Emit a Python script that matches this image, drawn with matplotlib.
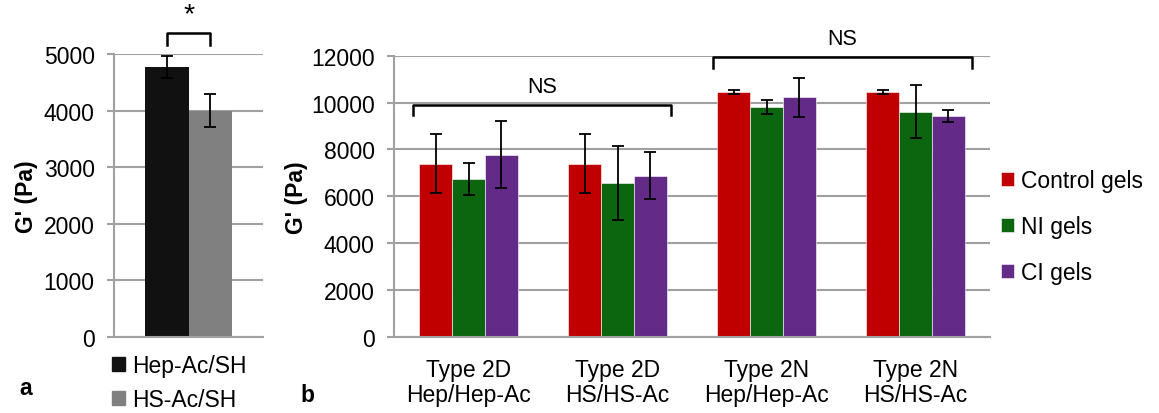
import numpy as np
import matplotlib
matplotlib.use('Agg')
from matplotlib import pyplot as plt
from matplotlib.patches import Patch

plt.rcParams['font.family'] = ['Liberation Sans', 'DejaVu Sans']
FS = 16.5

# panel a data
a_labels = ['Hep-Ac/SH', 'HS-Ac/SH']
a_values = [4770, 4000]
a_errors = [190, 290]
a_colors = ['#111111', '#808080']

# panel b data
b_categories = ['Type 2D\nHep/Hep-Ac', 'Type 2D\nHS/HS-Ac', 'Type 2N\nHep/Hep-Ac', 'Type 2N\nHS/HS-Ac']
b_series = ['Control gels', 'NI gels', 'CI gels']
control_vals = [7380, 7380, 10450, 10450]
control_err = [1260, 1260, 90, 90]
ni_vals = [6740, 6560, 9820, 9610]
ni_err = [670, 1580, 290, 1140]
ci_vals = [7780, 6880, 10220, 9440]
ci_err = [1420, 1000, 820, 250]
b_colors = ['#C00000', '#0C650F', '#632A88']

grid_col = '#A0A0A0'

fig = plt.figure(figsize=(11.59, 4.14), dpi=100)

def style_axis(ax):
    ax.grid(axis='y', color=grid_col, linewidth=1.5, zorder=0)
    ax.set_axisbelow(True)
    for s in ['top', 'right']:
        ax.spines[s].set_visible(False)
    for s in ['left', 'bottom']:
        ax.spines[s].set_color(grid_col)
        ax.spines[s].set_linewidth(1.5)
    ax.tick_params(axis='y', colors=grid_col, length=5, width=1.5, labelsize=FS, labelcolor='black', pad=9)
    ax.tick_params(axis='x', length=0, labelsize=FS)

# ---- panel a
axa = fig.add_axes([0.0984, 0.1836, 0.1286, 0.6836])
w = 0.289
xa = np.array([-w / 2, w / 2])
axa.bar(xa, a_values, w, color=a_colors, zorder=2)
axa.errorbar(xa, a_values, yerr=a_errors, fmt='none', ecolor='black', elinewidth=1.3, capsize=4.3, capthick=1.3, zorder=3)
axa.set_xlim(-0.5, 0.5)
axa.set_ylim(0, 5000)
axa.set_yticks(range(0, 5001, 1000))
axa.set_xticks([])
style_axis(axa)
axa.set_ylabel("G' (Pa)", fontsize=FS, fontweight='bold', labelpad=4)
# significance bracket
axa.plot([xa[0], xa[0], xa[1], xa[1]], [5150, 5370, 5370, 5150], color='black', lw=1.8, clip_on=False)
axa.text(xa.mean(), 5940, '*', ha='center', va='top', fontsize=FS + 4)
axa.legend([Patch(color=c) for c in a_colors], a_labels, loc='upper left',
           bbox_to_anchor=(0.097, 0.143), bbox_transform=fig.transFigure, frameon=False,
           fontsize=FS, handlelength=0.55, handleheight=0.55, handletextpad=0.3,
           labelspacing=0.5, borderaxespad=0, borderpad=0)

# ---- panel b
axb = fig.add_axes([0.340, 0.1843, 0.5142, 0.6787])
x = np.arange(len(b_categories))
bw = 0.221
for i, (vals, errs) in enumerate([(control_vals, control_err), (ni_vals, ni_err), (ci_vals, ci_err)]):
    pos = x + (i - 1) * bw
    axb.bar(pos, vals, bw, color=b_colors[i], edgecolor='white', linewidth=0.4, label=b_series[i], zorder=2)
    axb.errorbar(pos, vals, yerr=errs, fmt='none', ecolor='black', elinewidth=1.3, capsize=4.3, capthick=1.3, zorder=3)
axb.set_xlim(-0.5, 3.5)
axb.set_ylim(0, 12000)
axb.set_yticks(range(0, 12001, 2000))
axb.set_xticks(x)
axb.set_xticklabels(b_categories, linespacing=1.15)
style_axis(axb)
axb.tick_params(axis='x', pad=15)
axb.set_ylabel("G' (Pa)", fontsize=FS, fontweight='bold', labelpad=2)

def bracket(ax, x0, x1, y, drop, label):
    ax.plot([x0, x0, x1, x1], [y - drop, y, y, y - drop], color='black', lw=1.8, clip_on=False, zorder=4)
    ax.text((x0 + x1) / 2, y + 330, label, ha='center', va='bottom', fontsize=FS - 1)

bracket(axb, x[0] - 1.5 * bw - 0.04, x[1] + 1.5 * bw + 0.03, 9900, 430, 'NS')
bracket(axb, x[2] - 1.5 * bw - 0.03, x[3] + 1.5 * bw + 0.05, 11940, 460, 'NS')

axb.legend(loc='center left', bbox_to_anchor=(0.864, 0.45), bbox_transform=fig.transFigure,
           frameon=False, fontsize=FS, handlelength=0.55, handleheight=0.55, handletextpad=0.3,
           labelspacing=1.0, borderaxespad=0, borderpad=0)

fig.text(0.017, 0.062, 'a', fontsize=FS, fontweight='bold', va='center')
fig.text(0.259, 0.045, 'b', fontsize=FS, fontweight='bold', va='center')

fig.savefig('out.png', dpi=100)
